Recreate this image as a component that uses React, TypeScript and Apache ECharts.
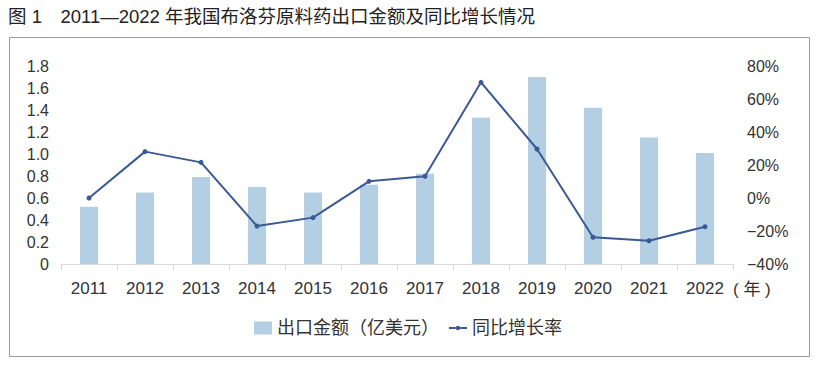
import React, { useEffect, useRef } from "react";
import * as echarts from "echarts";

const years = ["2011", "2012", "2013", "2014", "2015", "2016", "2017", "2018", "2019", "2020", "2021", "2022"];
const exportAmount = [0.52, 0.65, 0.79, 0.7, 0.65, 0.72, 0.82, 1.33, 1.7, 1.42, 1.15, 1.01];
const growthRate = [0, 28.1, 21.6, -17.0, -11.9, 10.1, 13.2, 70.1, 29.7, -23.8, -25.9, -17.4];
const titleText = "图 1　2011—2022 年我国布洛芬原料药出口金额及同比增长情况";
const barName = "出口金额（亿美元）";
const lineName = "同比增长率";
const yearUnit = "( 年 )";

const FONT = '"Liberation Sans", "Noto Sans CJK SC", sans-serif';
const LINE_ICON =
  "path://M0,2 L7.5,2 L7.5,4 L0,4 Z M12.5,2 L20,2 L20,4 L12.5,4 Z M12.5,3 A2.5,2.5 0 1,1 7.5,3 A2.5,2.5 0 1,1 12.5,3 Z";

export default function App() {
  const ref = useRef<HTMLDivElement>(null);
  useEffect(() => {
    document.body.style.margin = "0";
    const chart = echarts.init(ref.current!, null, { renderer: "svg" });
    chart.setOption({
      animation: false,
      textStyle: { fontFamily: FONT },
      title: {
        text: titleText,
        left: 8,
        top: 7,
        padding: 0,
        textStyle: { fontSize: 18.5, fontWeight: "normal", color: "#222", fontFamily: FONT },
      },
      graphic: [
        {
          type: "rect",
          shape: { x: 9.5, y: 37.5, width: 800, height: 319 },
          style: { fill: "none", stroke: "#9a9a9a", lineWidth: 1 },
          silent: true,
        },
        {
          type: "text",
          x: 733,
          y: 289,
          style: { text: yearUnit, fontSize: 17, fill: "#333", fontFamily: FONT, verticalAlign: "middle", align: "left" },
        },
      ],
      legend: {
        left: 249,
        top: 314,
        itemWidth: 18,
        itemHeight: 13,
        itemGap: 10,
        textStyle: { fontSize: 18, color: "#333", fontFamily: FONT },
        data: [
          { name: barName, icon: "rect" },
          { name: lineName, icon: LINE_ICON },
        ],
      },
      grid: { left: 61, right: 89, top: 66, bottom: 102 },
      xAxis: {
        type: "category",
        data: years,
        axisLine: { lineStyle: { color: "#D9D9D9", width: 1 } },
        axisTick: { show: true, length: 6, lineStyle: { color: "#D9D9D9" } },
        axisLabel: { fontSize: 17, color: "#333", margin: 16, fontFamily: FONT },
      },
      yAxis: [
        {
          type: "value",
          min: 0,
          max: 1.8,
          interval: 0.2,
          splitLine: { show: false },
          axisLine: { show: false },
          axisTick: { show: false },
          axisLabel: {
            fontSize: 16,
            color: "#333",
            margin: 12,
            fontFamily: FONT,
            formatter: (v: number) => (v === 0 ? "0" : v.toFixed(1)),
          },
        },
        {
          type: "value",
          min: -40,
          max: 80,
          interval: 20,
          splitLine: { show: false },
          axisLine: { show: false },
          axisTick: { show: false },
          axisLabel: {
            fontSize: 16,
            color: "#333",
            margin: 14,
            fontFamily: FONT,
            formatter: (v: number) => (v < 0 ? "−" + Math.abs(v) + "%" : v + "%"),
          },
        },
      ],
      series: [
        {
          name: barName,
          type: "bar",
          data: exportAmount,
          barWidth: 18,
          itemStyle: { color: "#B4CFE4" },
        },
        {
          name: lineName,
          type: "line",
          yAxisIndex: 1,
          data: growthRate,
          symbol: "circle",
          symbolSize: 5,
          lineStyle: { color: "#3A5A93", width: 2 },
          itemStyle: { color: "#3A5A93" },
        },
      ],
    });
    return () => chart.dispose();
  }, []);
  return <div ref={ref} style={{ width: 822, height: 366 }} />;
}
